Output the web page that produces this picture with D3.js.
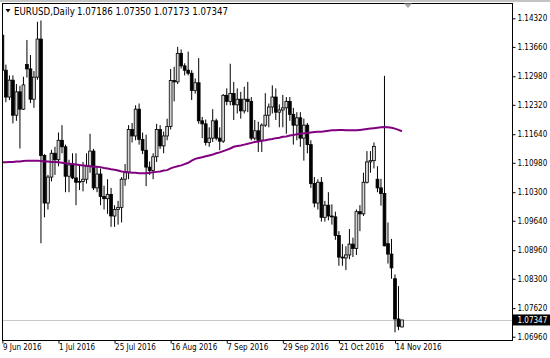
<!DOCTYPE html>
<html><head><meta charset="utf-8">
<script src="https://cdn.jsdelivr.net/npm/d3@7"></script>
<style>html,body{margin:0;padding:0;background:#fff;} svg{display:block;}</style>
</head><body>
<svg id="c" width="550" height="358"></svg>
<script>
const symbol = "EURUSD,Daily";
const lastOHLC = [1.07186, 1.07350, 1.07173, 1.07347];
const tickLabels = ["9 Jun 2016","1 Jul 2016","25 Jul 2016","16 Aug 2016","7 Sep 2016","29 Sep 2016","21 Oct 2016","14 Nov 2016"];
const tickBars = [0,16,32,48,64,80,96,112];
const priceTicks = [1.14320,1.13660,1.12980,1.12320,1.11640,1.10980,1.10300,1.09640,1.08960,1.08300,1.07620,1.06960];

const open = [1.1393,1.1312,1.1250,1.1289,1.1208,1.1262,1.1222,1.1325,1.1315,1.1245,1.1296,1.1384,
1.1115,1.1005,1.1065,1.1120,1.1105,1.1150,1.1135,1.1067,1.1093,1.1063,1.1053,1.1055,1.1060,1.1090,1.1125,1.1040,1.1072,1.1020,1.1015,1.1025,1.0975,1.0990,1.0995,1.1060,1.1075,
1.1175,1.1160,1.1222,1.1152,1.1127,1.1088,1.1080,1.1112,1.1175,1.1137,1.1160,1.1182,1.1288,1.1285,1.1351,1.1322,1.1312,1.1305,1.1265,1.1283,1.1195,1.1188,1.1145,1.1155,1.1195,1.1155,1.1148,1.1254,1.1240,1.1258,1.1232,1.1245,1.1218,1.1245,1.1240,1.1155,1.1172,1.1150,1.1185,1.1208,1.1227,1.1250,1.1215,1.1220,1.1225,1.1240,1.1210,1.1185,1.1202,1.1155,1.1185,1.1140,1.1050,1.1005,1.1053,1.0972,1.1000,1.0975,1.0973,1.0930,1.0880,1.0878,1.0885,1.0910,1.0900,1.0985,1.0980,1.1053,1.1100,1.1103,1.1060,1.1040,1.1027,1.0911,1.0887,1.0830,1.0737,1.07186];
const high = [1.1412,1.1325,1.1300,1.1300,1.1280,1.1276,1.1297,1.1382,1.1347,1.1310,1.1424,1.1427,
1.1118,1.1070,1.1128,1.1135,1.1168,1.1185,1.1140,1.1105,1.1120,1.1120,1.1093,1.1100,1.1120,1.1165,1.1130,1.1090,1.1085,1.1045,1.1060,1.1040,1.1000,1.1010,1.1065,1.1095,1.1185,
1.1190,1.1231,1.1235,1.1168,1.1163,1.1101,1.1120,1.1188,1.1185,1.1170,1.1200,1.1315,1.1320,1.1366,1.1360,1.1328,1.1355,1.1312,1.1293,1.1340,1.1204,1.1198,1.1180,1.1222,1.1200,1.1180,1.1257,1.1270,1.1327,1.1285,1.1270,1.1262,1.1274,1.1285,1.1250,1.1197,1.1193,1.1189,1.1259,1.1235,1.1277,1.1270,1.1233,1.1255,1.1250,1.1250,1.1225,1.1215,1.1215,1.1200,1.1190,1.1150,1.1065,1.1060,1.1065,1.1010,1.1030,1.1002,1.0985,1.0940,1.0910,1.0905,1.0945,1.0925,1.0990,1.1000,1.1075,1.1125,1.1125,1.1145,1.1090,1.1061,1.1299,1.0960,1.0922,1.0840,1.0813,1.07350];
const low = [1.1300,1.1238,1.1243,1.1189,1.1195,1.1131,1.1220,1.1295,1.1236,1.1225,1.1290,1.0912,
1.0972,1.0990,1.1055,1.1070,1.1090,1.1120,1.1030,1.1030,1.1060,1.1000,1.1035,1.1032,1.1050,1.1075,1.1035,1.1030,1.1000,1.0990,1.0980,1.0950,1.0950,1.0955,1.0960,1.1045,1.1060,
1.1145,1.1150,1.1140,1.1118,1.1044,1.1070,1.1060,1.1100,1.1130,1.1120,1.1150,1.1175,1.1240,1.1280,1.1316,1.1300,1.1300,1.1243,1.1258,1.1188,1.1155,1.1138,1.1135,1.1146,1.1150,1.1127,1.1144,1.1231,1.1231,1.1197,1.1212,1.1200,1.1212,1.1215,1.1150,1.1150,1.1123,1.1123,1.1181,1.1180,1.1212,1.1197,1.1180,1.1180,1.1165,1.1195,1.1140,1.1150,1.1135,1.1103,1.1120,1.1040,1.0995,1.0990,1.0962,1.0962,1.0965,1.0955,1.0920,1.0860,1.0860,1.0850,1.0875,1.0880,1.0885,1.0940,1.0975,1.1050,1.1075,1.1085,1.1030,1.0999,1.0905,1.0865,1.0830,1.0706,1.0711,1.07173];
const close = [1.1312,1.1250,1.1289,1.1208,1.1262,1.1222,1.1278,1.1315,1.1245,1.1296,1.1384,1.1115,
1.1005,1.1065,1.1120,1.1105,1.1150,1.1135,1.1067,1.1093,1.1063,1.1053,1.1055,1.1060,1.1090,1.1125,1.1040,1.1072,1.1020,1.1015,1.1025,1.0975,1.0990,1.0995,1.1060,1.1075,1.1175,
1.1160,1.1222,1.1152,1.1127,1.1088,1.1080,1.1112,1.1175,1.1137,1.1160,1.1182,1.1288,1.1285,1.1351,1.1322,1.1312,1.1305,1.1265,1.1283,1.1195,1.1188,1.1145,1.1155,1.1195,1.1155,1.1148,1.1254,1.1240,1.1258,1.1232,1.1245,1.1218,1.1245,1.1240,1.1155,1.1172,1.1150,1.1185,1.1208,1.1227,1.1250,1.1215,1.1220,1.1225,1.1240,1.1210,1.1185,1.1202,1.1155,1.1185,1.1140,1.1050,1.1005,1.1053,1.0972,1.1000,1.0975,1.0973,1.0930,1.0880,1.0878,1.0885,1.0910,1.0900,1.0985,1.0980,1.1053,1.1100,1.1103,1.1136,1.1040,1.1027,1.0906,1.0887,1.0855,1.0737,1.0720,1.07347];
const ma = [1.1099,1.1099,1.1100,1.1100,1.1101,1.1101,1.1102,1.1103,1.1103,1.1103,1.1103,1.1102,
1.1101,1.1101,1.1100,1.1100,1.1099,1.1098,1.1097,1.1096,1.1095,1.1094,1.1093,1.1092,1.1091,1.1090,1.1089,1.1089,1.1088,1.1086,1.1085,1.1083,1.1082,1.1080,1.1078,1.1077,1.1076,
1.1075,1.1075,1.1074,1.1074,1.1074,1.1075,1.1076,1.1077,1.1078,1.1080,1.1081,1.1085,1.1088,1.1090,1.1092,1.1095,1.1098,1.1103,1.1107,1.1109,1.1111,1.1113,1.1115,1.1117,1.1120,1.1122,1.1125,1.1128,1.1131,1.1135,1.1137,1.1138,1.1140,1.1142,1.1144,1.1146,1.1147,1.1149,1.1150,1.1152,1.1153,1.1155,1.1156,1.1158,1.1159,1.1161,1.1162,1.1164,1.1165,1.1166,1.1167,1.1168,1.1169,1.1170,1.1170,1.1171,1.1172,1.1173,1.1173,1.1174,1.1174,1.1173,1.1173,1.1173,1.1173,1.1174,1.1175,1.1176,1.1177,1.1178,1.1179,1.1180,1.1181,1.1180,1.1179,1.1177,1.1174,1.1171];

const FONT = "'DejaVu Sans Condensed','DejaVu Sans',sans-serif";
const L = 2.5, T = 3.5, R = 512.5, B = 340.5;
const svg = d3.select("#c");

const x = d3.scaleLinear().domain([0, open.length - 1]).range([2.4, 402]);
const y = d3.scaleLinear().domain([1.06960, 1.14320]).range([336.7, 18.3]);

// top strip
svg.append("rect").attr("x",0).attr("y",0).attr("width",550).attr("height",2).attr("fill","#c4c4c4");

const defs = svg.append("defs");
defs.append("clipPath").attr("id","plot").append("rect").attr("x",L).attr("y",T).attr("width",R-L).attr("height",B-T);

const plot = svg.append("g").attr("clip-path","url(#plot)");

// last price line
plot.append("line").attr("x1",L).attr("x2",R).attr("y1",Math.round(y(lastOHLC[3]))+0.5).attr("y2",Math.round(y(lastOHLC[3]))+0.5)
  .attr("stroke","#c8c8c8").attr("stroke-width",1);

const bars = d3.range(open.length).map(i => ({i, o:open[i], h:high[i], l:low[i], c:close[i]}));
const bw = 2.8;
const cg = plot.append("g");
cg.selectAll("line.w").data(bars).join("line").attr("class","w")
  .attr("x1",d=>x(d.i)).attr("x2",d=>x(d.i)).attr("y1",d=>y(d.h)).attr("y2",d=>y(d.l))
  .attr("stroke","#000").attr("stroke-width",1);
cg.selectAll("rect.b").data(bars).join("rect").attr("class","b")
  .attr("x",d=>x(d.i)-bw/2).attr("width",bw)
  .attr("y",d=>y(Math.max(d.o,d.c))).attr("height",d=>Math.max(0.8, Math.abs(y(d.o)-y(d.c))))
  .attr("fill",d=>d.c>d.o?"#d4d4d4":"#000").attr("stroke","#000").attr("stroke-width",0.8);

// moving average
plot.append("path").datum(ma).attr("fill","none").attr("stroke","#800080").attr("stroke-width",2)
  .attr("d", d3.line().x((d,i)=>x(i)).y(d=>y(d)));

// frame
svg.append("rect").attr("x",L).attr("y",T).attr("width",R-L).attr("height",B-T)
  .attr("fill","none").attr("stroke","#000").attr("stroke-width",1);

// shift marker
svg.append("path").attr("d","M404,3.5L412,3.5L408,8Z").attr("fill","#a8a8a8");

// right axis
const ay = svg.append("g").attr("transform",`translate(${R},0)`)
  .call(d3.axisRight(y).tickValues(priceTicks).tickSize(3).tickPadding(2).tickFormat(d=>d.toFixed(5)));
ay.select(".domain").remove();
ay.selectAll("line").attr("stroke","#000");
ay.selectAll("text").attr("font-family",FONT).attr("font-size","8px").attr("fill","#000");

// last price label
const ly = y(lastOHLC[3]);
svg.append("rect").attr("x",R).attr("y",ly-5.5).attr("width",550-R).attr("height",11).attr("fill","#000");
svg.append("text").attr("x",R+5).attr("y",ly).attr("dy","0.34em").attr("font-family",FONT).attr("font-size","8px")
  .attr("fill","#fff").text(lastOHLC[3].toFixed(5));

// bottom axis
const ax = svg.append("g").attr("transform",`translate(0,${B})`)
  .call(d3.axisBottom(x).tickValues(tickBars).tickSize(3).tickPadding(1).tickFormat((d,i)=>tickLabels[i]));
ax.select(".domain").remove();
ax.selectAll("line").attr("stroke","#000");
ax.selectAll("text").attr("font-family",FONT).attr("font-size","8px").attr("fill","#000").attr("text-anchor","start");

// header
svg.append("path").attr("d","M5.5,9L10.5,9L8,12.5Z").attr("fill","#000");
svg.append("text").attr("x",14).attr("y",14.5).attr("font-family",FONT).attr("font-size","9.6px").text(symbol);
svg.append("text").attr("x",77).attr("y",14.5).attr("font-family",FONT).attr("font-size","9.6px")
  .text(lastOHLC.map(v=>v.toFixed(5)).join(" "));
</script>
</body></html>
